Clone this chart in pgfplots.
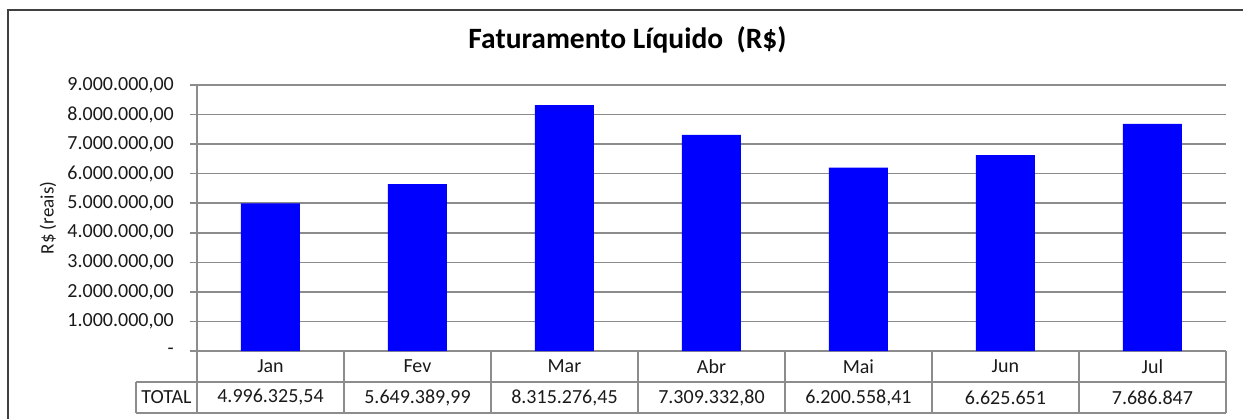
\documentclass[border=0pt]{standalone}
\usepackage{pgfplots}
\pgfplotsset{compat=1.18}
\usepackage{fontspec}
\setmainfont{Carlito}
\definecolor{gridgray}{HTML}{8C8C8C}
\definecolor{framegray}{HTML}{404040}
\definecolor{txt}{HTML}{1A1A1A}
\definecolor{barblue}{HTML}{0000FF}
\begin{document}
\begin{tikzpicture}[x=1pt,y=1pt]
\path[use as bounding box] (0,0) rectangle (1243,418);
% outer frame (cropped at right and bottom)
\draw[framegray, line width=2pt] (8,-5) -- (8,408) -- (1250,408);
\begin{axis}[
  at={(197pt,67pt)}, anchor=south west,
  scale only axis, width=1029pt, height=266pt,
  xmin=-0.5, xmax=6.5, ymin=0, ymax=9000000,
  clip=false,
  axis x line*=bottom, axis y line*=left,
  axis line style={gridgray, line width=1.5pt, -},
  ybar, bar width=59pt,
  xtick={0,...,6}, xticklabels={Jan,Fev,Mar,Abr,Mai,Jun,Jul},
  xtick style={draw=none},
  xticklabel style={anchor=center, yshift=-8.5pt, inner sep=0pt, font=\fontsize{20}{24}\selectfont, text=txt},
  ytick={0,1000000,...,9000000},
  yticklabels={-,{1.000.000,00},{2.000.000,00},{3.000.000,00},{4.000.000,00},{5.000.000,00},{6.000.000,00},{7.000.000,00},{8.000.000,00},{9.000.000,00}},
  scaled y ticks=false,
  tick align=outside, major tick length=7pt,
  ytick style={gridgray, line width=1.5pt},
  yticklabel style={anchor=east, inner sep=0pt, xshift=-16pt, font=\fontsize{20}{24}\selectfont, text=txt},
  ymajorgrids, major grid style={gridgray, line width=1.5pt},
  ylabel={R\$ (reais)},
  ylabel style={at={(axis description cs:-0.1448,0.5)}, anchor=center, font=\fontsize{19}{23}\selectfont, text=txt},
  title={Faturamento Líquido\ \ (R\$)},
  title style={at={(axis description cs:0.5,1)}, anchor=center, xshift=-84pt, yshift=39pt, font=\bfseries\fontsize{29.5}{34}\selectfont, text=black},
]
\addplot[fill=barblue, draw=none] coordinates {
  (0,4996325.54) (1,5649389.99) (2,8315276.45) (3,7309332.80)
  (4,6200558.41) (5,6625651) (6,7686847)};
% data table
\draw[gridgray, line width=1.5pt] (axis cs:-0.5,0) ++(-61pt,-31pt) -- ++(1090pt,0pt);
\draw[gridgray, line width=1.5pt] (axis cs:-0.5,0) ++(-61pt,-62pt) -- ++(1090pt,0pt);
\draw[gridgray, line width=1.5pt] (axis cs:-0.5,0) ++(-61pt,-31pt) -- ++(0pt,-31pt);
\pgfplotsinvokeforeach{-0.5,0.5,1.5,2.5,3.5,4.5,5.5,6.5}{
  \draw[gridgray, line width=1.5pt] (axis cs:#1,0) -- ++(0pt,-62pt);
}
\node[text=txt, font=\fontsize{20}{24}\selectfont, xshift=-30.5pt, yshift=-46.5pt] at (axis cs:-0.5,0) {TOTAL};
\node[text=txt, font=\fontsize{20}{24}\selectfont, yshift=-46.5pt] at (axis cs:0,0) {4.996.325,54};
\node[text=txt, font=\fontsize{20}{24}\selectfont, yshift=-46.5pt] at (axis cs:1,0) {5.649.389,99};
\node[text=txt, font=\fontsize{20}{24}\selectfont, yshift=-46.5pt] at (axis cs:2,0) {8.315.276,45};
\node[text=txt, font=\fontsize{20}{24}\selectfont, yshift=-46.5pt] at (axis cs:3,0) {7.309.332,80};
\node[text=txt, font=\fontsize{20}{24}\selectfont, yshift=-46.5pt] at (axis cs:4,0) {6.200.558,41};
\node[text=txt, font=\fontsize{20}{24}\selectfont, yshift=-46.5pt] at (axis cs:5,0) {6.625.651};
\node[text=txt, font=\fontsize{20}{24}\selectfont, yshift=-46.5pt] at (axis cs:6,0) {7.686.847};
\end{axis}
\end{tikzpicture}
\end{document}
